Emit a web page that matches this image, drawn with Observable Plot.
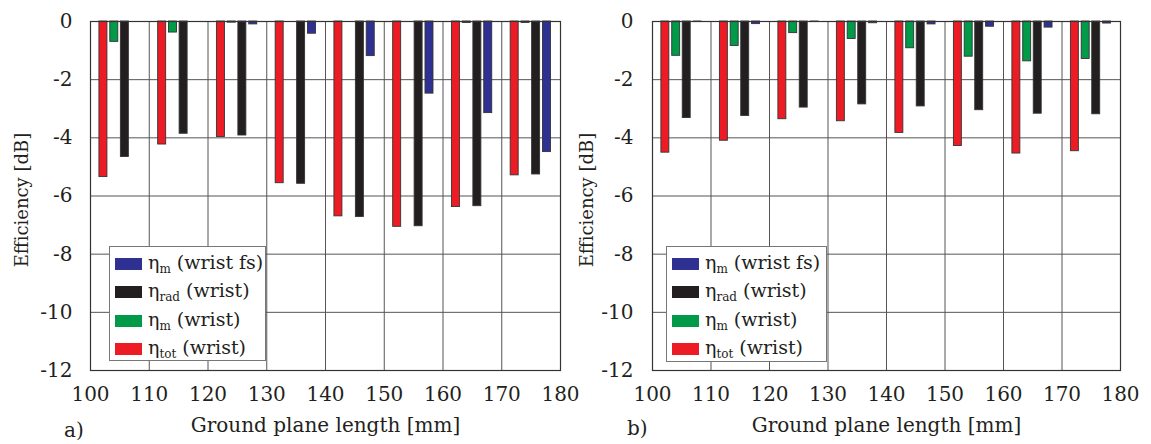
<!DOCTYPE html>
<html>
<head>
<meta charset="utf-8">
<script src="https://cdn.jsdelivr.net/npm/d3@7"></script>
<script src="https://cdn.jsdelivr.net/npm/@observablehq/plot@0.6"></script>
<style>
  body { margin: 0; background: #fff; }
  #wrap { position: relative; width: 1151px; height: 444px; overflow: hidden; font-family: "DejaVu Serif", serif; color: #231f20; }
  .panel { position: absolute; top: 0; }
  .legend { position: absolute; background: #fff; border: 1px solid #777; box-sizing: border-box; }
  .row { position: absolute; left: 0; height: 24px; display: flex; align-items: center; }
  .sw { display: inline-block; width: 27px; height: 12px; margin-left: 5px; margin-right: 6px; }
  .lt { font-size: 19px; white-space: nowrap; line-height: 1; }
  .lt sub { font-size: 12px; vertical-align: -4px; }
  .tag { position: absolute; font-size: 20px; }
</style>
</head>
<body>
<div id="wrap"></div>
<script>
// ---- data ----
const lengths = [100, 110, 120, 130, 140, 150, 160, 170];
const xTicks = [100, 110, 120, 130, 140, 150, 160, 170, 180];
const yTicks = [0, -2, -4, -6, -8, -10, -12];

// panel a)
const totA    = [-5.35, -4.23, -3.97, -5.56, -6.70, -7.06, -6.38, -5.29];
const mWristA = [-0.70, -0.38, -0.04, 0, 0, 0, -0.05, -0.05];
const radA    = [-4.66, -3.86, -3.92, -5.58, -6.72, -7.04, -6.35, -5.26];
const mFsA    = [0, 0, -0.10, -0.42, -1.19, -2.48, -3.15, -4.49];

// panel b)
const totB    = [-4.51, -4.10, -3.36, -3.43, -3.83, -4.28, -4.54, -4.46];
const mWristB = [-1.18, -0.84, -0.40, -0.60, -0.92, -1.21, -1.37, -1.29];
const radB    = [-3.32, -3.25, -2.96, -2.85, -2.92, -3.05, -3.17, -3.19];
const mFsB    = [-0.02, -0.09, -0.02, -0.06, -0.10, -0.18, -0.21, -0.07];

const seriesNames = ["wrist fs", "wrist", "wrist", "wrist"];
const xLabel = "Ground plane length [mm]";
const yLabel = "Efficiency [dB]";

const colors = { tot: "#ed1c24", mWrist: "#009a49", rad: "#231f20", mFs: "#2e3192" };
const offsets = { tot: 2.2, mWrist: 4.05, rad: 5.85, mFs: 7.7 };
const halfW = 0.68;

function panel(series, o) {
  const marks = [
    Plot.gridX(xTicks, { stroke: "#555", strokeOpacity: 1, strokeWidth: 1 }),
    Plot.gridY(yTicks, { stroke: "#555", strokeOpacity: 1, strokeWidth: 1 })
  ];
  for (const [key, vals] of Object.entries(series)) {
    const rows = lengths.map((len, i) => ({ len, v: vals[i] })).filter(d => d.v !== 0);
    marks.push(Plot.rect(rows, {
      x1: d => d.len + offsets[key] - halfW,
      x2: d => d.len + offsets[key] + halfW,
      y1: 0, y2: "v",
      fill: colors[key], stroke: "#333", strokeWidth: 0.9
    }));
  }
  marks.push(
    Plot.frame({ stroke: "#333", strokeWidth: 1.2 }),
    Plot.axisX(xTicks, { tickSize: 0, tickPadding: 16, fontSize: 20, label: null, tickFormat: d => String(d) }),
    Plot.axisY(yTicks, { tickSize: 0, tickPadding: o.yPad, fontSize: 20, label: null, tickFormat: d => String(d) }),
    Plot.text([xLabel], { frameAnchor: "bottom", dy: 55, lineAnchor: "middle", textAnchor: "middle", fontSize: 20, text: d => d }),
    Plot.text([yLabel], { frameAnchor: "left", dx: -o.yLab, dy: 4, rotate: -90, lineAnchor: "middle", textAnchor: "middle", fontSize: 18, text: d => d })
  );
  return Plot.plot({
    width: o.width, height: 444,
    marginTop: 21, marginBottom: 74, marginLeft: o.ml, marginRight: o.mr,
    x: { domain: [100, 180], axis: null },
    y: { domain: [-12, 0], axis: null },
    style: { fontFamily: "DejaVu Serif", fontSize: "20px", color: "#231f20", background: "transparent", overflow: "visible" },
    marks
  });
}

const wrap = document.getElementById("wrap");
function addPanel(svg, left) {
  const d = document.createElement("div");
  d.className = "panel"; d.style.left = left + "px";
  d.appendChild(svg); wrap.appendChild(d);
}
addPanel(panel({ tot: totA, mWrist: mWristA, rad: radA, mFs: mFsA }, { width: 575, ml: 90, mr: 15, yPad: 18, yLab: 68 }), 0);
addPanel(panel({ tot: totB, mWrist: mWristB, rad: radB, mFs: mFsB }, { width: 576, ml: 77, mr: 31, yPad: 19, yLab: 65 }), 575);

const legendItems = [
  { c: colors.mFs, sym: "m", txt: "(" + seriesNames[0] + ")" },
  { c: colors.rad, sym: "rad", txt: "(" + seriesNames[1] + ")" },
  { c: colors.mWrist, sym: "m", txt: "(" + seriesNames[2] + ")" },
  { c: colors.tot, sym: "tot", txt: "(" + seriesNames[3] + ")" }
];
function legend(left, top, w, h) {
  const L = document.createElement("div");
  L.className = "legend";
  Object.assign(L.style, { left: left + "px", top: top + "px", width: w + "px", height: h + "px" });
  const ys = [5, 33, 62, 90];
  legendItems.forEach((it, i) => {
    const r = document.createElement("div");
    r.className = "row"; r.style.top = ys[i] + "px";
    r.innerHTML = `<span class="sw" style="background:${it.c}"></span><span class="lt">η<sub>${it.sym}</sub> ${it.txt}</span>`;
    L.appendChild(r);
  });
  wrap.appendChild(L);
}
legend(109, 246, 157, 115);
legend(666, 246, 161, 116);

function tag(t, x, y) {
  const s = document.createElement("div");
  s.className = "tag"; s.textContent = t;
  s.style.left = x + "px"; s.style.top = y + "px";
  wrap.appendChild(s);
}
tag("a)", 64, 418);
tag("b)", 627, 416);
</script>
</body>
</html>
